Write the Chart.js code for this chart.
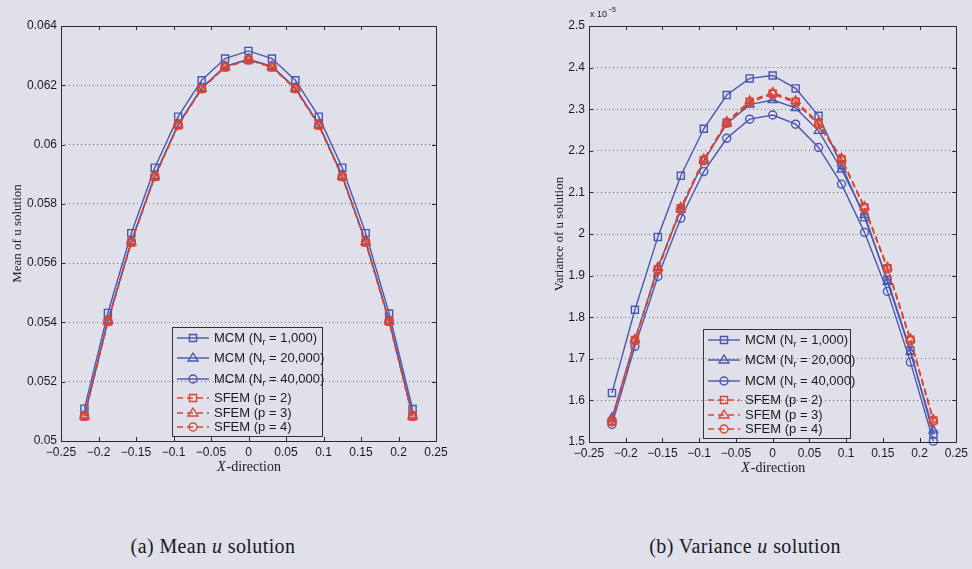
<!DOCTYPE html>
<html>
<head>
<meta charset="utf-8">
<script src="https://cdn.jsdelivr.net/npm/chart.js@4.4.0/dist/chart.umd.min.js"></script>
<style>
  body { margin: 0; width: 972px; height: 569px; background: #dfe0ea; position: relative; overflow: hidden; }
  .box { position: absolute; top: 0; height: 480px; }
  .cap { position: absolute; top: 535px; font-family: "Liberation Serif", serif; font-size: 20px; letter-spacing: 0.4px; color: #1a1a1a; transform: translateX(-50%); white-space: nowrap; }
</style>
</head>
<body>
<div class="box" style="left:0;width:480px"><canvas id="meanChart"></canvas></div>
<div class="box" style="left:530px;width:442px"><canvas id="varChart"></canvas></div>
<div class="cap" style="left:213px">(a) Mean <i>u</i> solution</div>
<div class="cap" style="left:745px">(b) Variance <i>u</i> solution</div>
<script>
var xPos = [-0.21875, -0.1875, -0.15625, -0.125, -0.09375, -0.0625, -0.03125, 0, 0.03125, 0.0625, 0.09375, 0.125, 0.15625, 0.1875, 0.21875]
var xTicks = [-0.25, -0.2, -0.15, -0.1, -0.05, 0, 0.05, 0.1, 0.15, 0.2, 0.25]
var meanTicks = [0.05, 0.052, 0.054, 0.056, 0.058, 0.06, 0.062, 0.064]
var varTicks = [1.5, 1.6, 1.7, 1.8, 1.9, 2, 2.1, 2.2, 2.3, 2.4, 2.5]   // x 10^-5

var seriesLabels = ['MCM (N_r = 1,000)', 'MCM (N_r = 20,000)', 'MCM (N_r = 40,000)', 'SFEM (p = 2)', 'SFEM (p = 3)', 'SFEM (p = 4)']

var meanMcm1000  = [0.05109, 0.05432, 0.05701, 0.05922, 0.06094, 0.06217, 0.06290, 0.06316, 0.06290, 0.06217, 0.06094, 0.05922, 0.05701, 0.05430, 0.05108]
var meanMcm20000 = [0.05086, 0.05406, 0.05673, 0.05894, 0.06068, 0.06191, 0.06264, 0.06288, 0.06264, 0.06191, 0.06068, 0.05894, 0.05673, 0.05406, 0.05086]
var meanMcm40000 = [0.05085, 0.05405, 0.05672, 0.05893, 0.06067, 0.06190, 0.06263, 0.06287, 0.06263, 0.06190, 0.06067, 0.05893, 0.05672, 0.05405, 0.05085]
var meanSfem2    = [0.05083, 0.05403, 0.05670, 0.05891, 0.06065, 0.06188, 0.06261, 0.06285, 0.06261, 0.06188, 0.06065, 0.05891, 0.05670, 0.05403, 0.05083]
var meanSfem3    = [0.05083, 0.05403, 0.05670, 0.05891, 0.06065, 0.06188, 0.06261, 0.06285, 0.06261, 0.06188, 0.06065, 0.05891, 0.05670, 0.05403, 0.05083]
var meanSfem4    = [0.05083, 0.05403, 0.05670, 0.05891, 0.06065, 0.06188, 0.06261, 0.06285, 0.06261, 0.06188, 0.06065, 0.05891, 0.05670, 0.05403, 0.05083]

var varMcm1000  = [1.618, 1.818, 1.993, 2.140, 2.253, 2.334, 2.374, 2.381, 2.350, 2.284, 2.165, 2.040, 1.890, 1.720, 1.518]
var varMcm20000 = [1.558, 1.745, 1.920, 2.058, 2.176, 2.265, 2.311, 2.322, 2.303, 2.248, 2.155, 2.046, 1.885, 1.716, 1.528]
var varMcm40000 = [1.542, 1.730, 1.898, 2.038, 2.150, 2.230, 2.276, 2.286, 2.264, 2.208, 2.120, 2.004, 1.862, 1.692, 1.502]
var varSfem2    = [1.550, 1.745, 1.915, 2.062, 2.178, 2.268, 2.318, 2.338, 2.318, 2.265, 2.180, 2.064, 1.918, 1.746, 1.552]
var varSfem3    = [1.552, 1.746, 1.918, 2.064, 2.180, 2.270, 2.320, 2.340, 2.320, 2.268, 2.182, 2.066, 1.920, 1.748, 1.554]
var varSfem4    = [1.548, 1.743, 1.913, 2.060, 2.176, 2.266, 2.316, 2.336, 2.316, 2.263, 2.178, 2.062, 1.916, 1.744, 1.550]

var BLUE = '#4b56ad'
var RED = '#dc4631'
var markers = ['rect', 'triangle', 'circle', 'rect', 'triangle', 'circle']
var markerSize = {rect: 5, triangle: 5, circle: 4}

function makeDatasets(series) {
  return series.map((vals, i) => {
    let red = i >= 3
    return {
      label: seriesLabels[i],
      data: vals.map((v, j) => ({x: xPos[j], y: v})),
      borderColor: red ? RED : BLUE,
      backgroundColor: 'rgba(0,0,0,0)',
      borderWidth: 1.4,
      borderDash: red ? [6, 4] : [],
      pointStyle: markers[i],
      pointRadius: markerSize[markers[i]],
      pointBorderWidth: 1.4,
      pointBackgroundColor: 'rgba(0,0,0,0)',
      pointBorderColor: red ? RED : BLUE,
      tension: 0,
      clip: false,
      order: red ? 0 : 1
    }
  })
}

function line(ctx, x1, y1, x2, y2) {
  ctx.beginPath()
  ctx.moveTo(x1, y1)
  ctx.lineTo(x2, y2)
  ctx.stroke()
}

function marker(ctx, style, x, y, r) {
  ctx.beginPath()
  if (style == 'rect') {
    let s = r * Math.SQRT1_2
    ctx.rect(x - s, y - s, 2 * s, 2 * s)
  } else if (style == 'triangle') {
    ctx.moveTo(x, y - r)
    ctx.lineTo(x + r, y + r * 0.6)
    ctx.lineTo(x - r, y + r * 0.6)
    ctx.closePath()
  } else {
    ctx.arc(x, y, r, 0, Math.PI * 2)
  }
  ctx.stroke()
}

var matlabBox = {
  id: 'matlabBox',
  afterDraw(chart, args, opts) {
    let ctx = chart.ctx
    let a = chart.chartArea
    let sx = chart.scales.x
    let sy = chart.scales.y
    ctx.save()
    ctx.strokeStyle = '#2b2b2b'
    ctx.lineWidth = 1
    sx.ticks.forEach(t => {
      let px = Math.round(sx.getPixelForValue(t.value)) + 0.5
      line(ctx, px, a.bottom, px, a.bottom - 4)
      line(ctx, px, a.top, px, a.top + 4)
    })
    sy.ticks.forEach(t => {
      let py = Math.round(sy.getPixelForValue(t.value)) + 0.5
      line(ctx, a.left, py, a.left + 4, py)
      line(ctx, a.right, py, a.right - 4, py)
    })
    ctx.strokeRect(Math.round(a.left) + 0.5, Math.round(a.top) + 0.5, Math.round(a.width), Math.round(a.height))

    // legend
    let lg = opts.legend
    let lx = a.left + lg.x
    let ly = a.top + lg.y
    ctx.strokeStyle = '#333'
    ctx.strokeRect(Math.round(lx) + 0.5, Math.round(ly) + 0.5, lg.w, lg.h)
    chart.data.datasets.forEach((ds, i) => {
      let y = ly + lg.rows[i]
      ctx.strokeStyle = ds.borderColor
      ctx.lineWidth = 1.4
      ctx.setLineDash(ds.borderDash)
      line(ctx, lx + 5, y, lx + 37, y)
      ctx.setLineDash([])
      marker(ctx, ds.pointStyle, lx + 21, y, ds.pointRadius)
      let parts = ds.label.split('_')
      let tx = lx + 42
      ctx.fillStyle = '#1c1c1c'
      ctx.textBaseline = 'middle'
      ctx.font = '13px "Liberation Sans", Arial, sans-serif'
      if (parts.length > 1) {
        ctx.fillText(parts[0], tx, y)
        tx += ctx.measureText(parts[0]).width
        ctx.font = '9px "Liberation Sans", Arial, sans-serif'
        ctx.fillText(parts[1][0], tx, y + 5)
        tx += ctx.measureText(parts[1][0]).width
        ctx.font = '13px "Liberation Sans", Arial, sans-serif'
        ctx.fillText(parts[1].slice(1), tx, y)
      } else {
        ctx.fillText(ds.label, tx, y)
      }
    })

    // x axis title
    let cx = (a.left + a.right) / 2
    ctx.fillStyle = '#1c1c1c'
    ctx.textBaseline = 'alphabetic'
    ctx.font = 'italic 14px "Liberation Serif", serif'
    let w1 = ctx.measureText('X').width
    ctx.font = '14px "Liberation Serif", serif'
    let w2 = ctx.measureText('-direction').width
    let x0 = cx - (w1 + w2) / 2
    ctx.font = 'italic 14px "Liberation Serif", serif'
    ctx.fillText('X', x0, a.bottom + 30)
    ctx.font = '14px "Liberation Serif", serif'
    ctx.fillText('-direction', x0 + w1 + 1, a.bottom + 30)

    if (opts.exponent) {
      ctx.font = '9px "Liberation Sans", Arial, sans-serif'
      ctx.fillText('x 10', a.left + 1, a.top - 9)
      let w = ctx.measureText('x 10').width
      ctx.font = '7px "Liberation Sans", Arial, sans-serif'
      ctx.fillText('\u22125', a.left + 2 + w, a.top - 14)
    }
    ctx.restore()
  }
}

function fmt(v, d) {
  let s = parseFloat(v.toFixed(d)).toString()
  return s.replace('-', '\u2212')
}

function drawChart(id, datasets, yTicks, yDigits, yTitle, titlePad, yWidth, xHeight, padRight, legend, exponent) {
  let ctx = document.getElementById(id)
  return new Chart(ctx, {
    type: 'line',
    data: {datasets: datasets},
    options: {
      responsive: true,
      maintainAspectRatio: false,
      animation: false,
      layout: {padding: {top: 26, right: padRight, left: 0, bottom: 0}},
      plugins: {
        legend: {display: false},
        tooltip: {enabled: false},
        matlabBox: {legend: legend, exponent: exponent}
      },
      scales: {
        x: {
          type: 'linear',
          min: xTicks[0],
          max: xTicks[xTicks.length - 1],
          afterBuildTicks: s => { s.ticks = xTicks.map(v => ({value: v})) },
          afterFit: s => { s.height = xHeight },
          grid: {display: false, drawTicks: false},
          border: {display: false},
          ticks: {
            padding: 4,
            color: '#1c1c1c',
            font: {family: '"Liberation Sans", Arial, sans-serif', size: 12},
            maxRotation: 0,
            autoSkip: false,
            callback: v => fmt(v, 2)
          }
        },
        y: {
          min: yTicks[0],
          max: yTicks[yTicks.length - 1],
          afterBuildTicks: s => { s.ticks = yTicks.map(v => ({value: v})) },
          afterFit: s => { s.width = yWidth },
          grid: {color: '#707078', lineWidth: 1, drawTicks: false},
          border: {display: false, dash: [1, 3]},
          title: {
            display: true,
            text: yTitle,
            color: '#1c1c1c',
            font: {family: '"Liberation Serif", serif', size: 13},
            padding: {top: titlePad, bottom: 0}
          },
          ticks: {
            padding: 4,
            color: '#1c1c1c',
            font: {family: '"Liberation Sans", Arial, sans-serif', size: 12},
            autoSkip: false,
            callback: v => fmt(v, yDigits)
          }
        }
      }
    },
    plugins: [matlabBox]
  })
}

var meanChart = drawChart('meanChart',
  makeDatasets([meanMcm1000, meanMcm20000, meanMcm40000, meanSfem2, meanSfem3, meanSfem4]),
  meanTicks, 3, 'Mean of u solution', 10, 61, 39, 44,
  {x: 111, y: 301, w: 150, h: 109, rows: [11, 31, 52, 71, 86, 100]}, false)

var varChart = drawChart('varChart',
  makeDatasets([varMcm1000, varMcm20000, varMcm40000, varSfem2, varSfem3, varSfem4]),
  varTicks, 1, 'Variance of u solution', 22, 59, 38, 11,
  {x: 114, y: 303, w: 147, h: 109, rows: [11, 31, 52, 71, 86, 100]}, true)
</script>
</body>
</html>
